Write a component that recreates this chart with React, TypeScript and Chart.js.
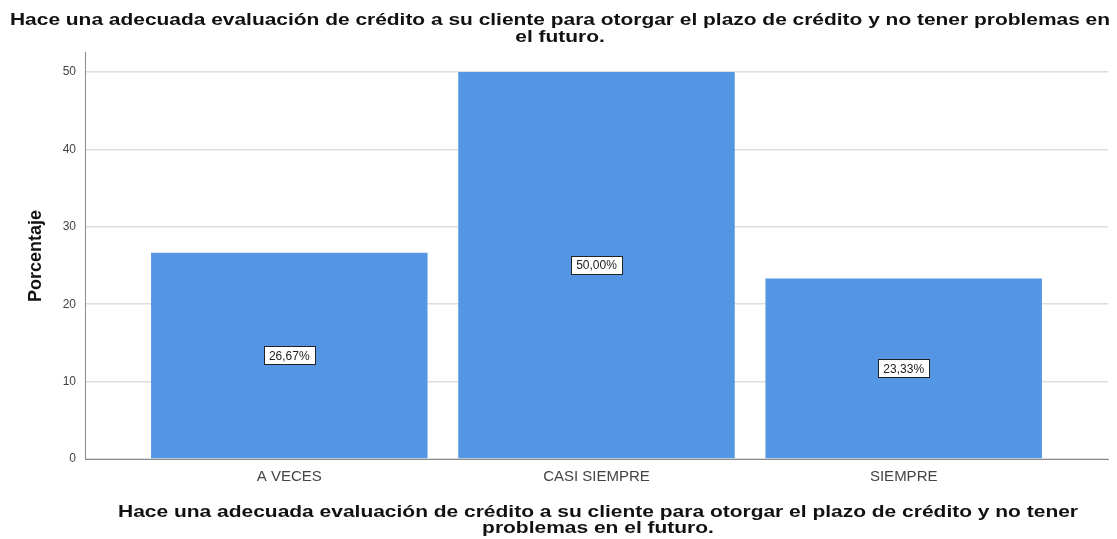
import React, { useEffect, useRef } from "react";
import { Chart, registerables } from "chart.js";

Chart.register(...registerables);

const categories = ["A VECES", "CASI SIEMPRE", "SIEMPRE"];
const percentages = [26.67, 50.0, 23.33];
const valueLabels = ["26,67%", "50,00%", "23,33%"];
const yTicks = [0, 10, 20, 30, 40, 50];
const titleLines = [
  "Hace una adecuada evaluación de crédito a su cliente para otorgar el plazo de crédito y no tener problemas en",
  "el futuro.",
];
const xTitleLines = [
  "Hace una adecuada evaluación de crédito a su cliente para otorgar el plazo de crédito y no tener",
  "problemas en el futuro.",
];
const yTitle = "Porcentaje";

const BAR_COLOR = "#5596e4";

function drawFitLines(
  ctx: CanvasRenderingContext2D,
  lines: string[],
  font: string,
  cx: number,
  baseline0: number,
  lineH: number,
  width0: number,
  color: string
) {
  ctx.save();
  ctx.font = font;
  ctx.fillStyle = color;
  ctx.textAlign = "center";
  ctx.textBaseline = "alphabetic";
  const w = ctx.measureText(lines[0]).width;
  const sx = width0 / w;
  lines.forEach((l, i) => {
    ctx.save();
    ctx.translate(cx, baseline0 + i * lineH);
    ctx.scale(sx, 1);
    ctx.fillText(l, 0, 0);
    ctx.restore();
  });
  ctx.restore();
}

const textPlugin = {
  id: "spssText",
  afterDatasetsDraw(chart: any) {
    const ctx: CanvasRenderingContext2D = chart.ctx;
    const meta = chart.getDatasetMeta(0);
    meta.data.forEach((el: any, i: number) => {
      const cx = el.x;
      const cy = (el.y + el.base) / 2;
      ctx.save();
      ctx.font = "12px 'Liberation Sans', Arial, sans-serif";
      const tw = ctx.measureText(valueLabels[i]).width;
      const bw = Math.round(tw + 10);
      const bh = 18;
      const bx = Math.round(cx - bw / 2) + 0.5;
      const by = Math.round(cy - bh / 2) + 0.5;
      ctx.fillStyle = "#ffffff";
      ctx.fillRect(bx, by, bw, bh);
      ctx.strokeStyle = "#222222";
      ctx.lineWidth = 1;
      ctx.strokeRect(bx, by, bw, bh);
      ctx.fillStyle = "#222222";
      ctx.textAlign = "center";
      ctx.textBaseline = "middle";
      ctx.fillText(valueLabels[i], cx, cy + 1);
      ctx.restore();
    });
  },
  afterDraw(chart: any) {
    const ctx: CanvasRenderingContext2D = chart.ctx;
    drawFitLines(
      ctx,
      titleLines,
      "bold 16px 'Liberation Sans', Arial, sans-serif",
      560,
      25,
      17,
      1100,
      "#111111"
    );
    drawFitLines(
      ctx,
      xTitleLines,
      "bold 16px 'Liberation Sans', Arial, sans-serif",
      598,
      517,
      16,
      960,
      "#111111"
    );
    ctx.save();
    ctx.translate(41, 256);
    ctx.rotate(-Math.PI / 2);
    ctx.font = "bold 19px 'Liberation Sans Narrow', 'Liberation Sans', Arial, sans-serif";
    const w = ctx.measureText(yTitle).width;
    ctx.scale(92 / w, 1);
    ctx.fillStyle = "#111111";
    ctx.textAlign = "center";
    ctx.textBaseline = "alphabetic";
    ctx.fillText(yTitle, 0, 0);
    ctx.restore();
  },
};

export default function App() {
  const canvasRef = useRef<HTMLCanvasElement | null>(null);

  useEffect(() => {
    document.body.style.margin = "0";
    const canvas = canvasRef.current;
    if (!canvas) return;
    const chart = new Chart(canvas, {
      type: "bar",
      data: {
        datasets: [
          {
            data: percentages.map((v, i) => ({ x: i, y: v })),
            backgroundColor: BAR_COLOR,
            borderWidth: 0,
            categoryPercentage: 1,
            barPercentage: 0.9,
          },
        ],
      },
      plugins: [textPlugin],
      options: {
        responsive: false,
        animation: false,
        devicePixelRatio: 1,
        layout: { padding: { left: 0, right: 9, top: 52, bottom: 0 } },
        plugins: {
          legend: { display: false },
          tooltip: { enabled: false },
          title: { display: false },
        },
        scales: {
          x: {
            type: "linear",
            offset: false,
            min: -0.665,
            max: 2.665,
            afterBuildTicks: (scale: any) => {
              scale.ticks = categories.map((_, i) => ({ value: i }));
            },
            afterFit: (scale: any) => {
              scale.height = 80;
            },
            grid: { display: false, drawTicks: false, offset: false },
            border: { display: true, color: "#8a8a8a", width: 1 },
            ticks: {
              padding: 9,
              color: "#444444",
              font: { family: "'Liberation Sans Narrow', 'Liberation Sans', Arial, sans-serif", size: 15 },
              callback: (v: any) => categories[Math.round(Number(v))] ?? "",
              maxRotation: 0,
              autoSkip: false,
            },
          },
          y: {
            type: "linear",
            min: 0,
            max: 52.6,
            afterBuildTicks: (scale: any) => {
              scale.ticks = yTicks.map((v) => ({ value: v }));
            },
            afterFit: (scale: any) => {
              scale.width = 85;
            },
            grid: { color: "#dddddd", lineWidth: 1.5, drawTicks: false },
            border: { display: true, color: "#8a8a8a", width: 1 },
            ticks: {
              padding: 9,
              color: "#444444",
              font: { family: "'Liberation Sans', Arial, sans-serif", size: 12 },
            },
          },
        },
      },
    } as any);
    return () => chart.destroy();
  }, []);

  return (
    <div style={{ position: "fixed", left: 0, top: 0, width: 1117, height: 539, background: "#fff" }}>
      <canvas ref={canvasRef} width={1117} height={539} style={{ display: "block" }} />
    </div>
  );
}
